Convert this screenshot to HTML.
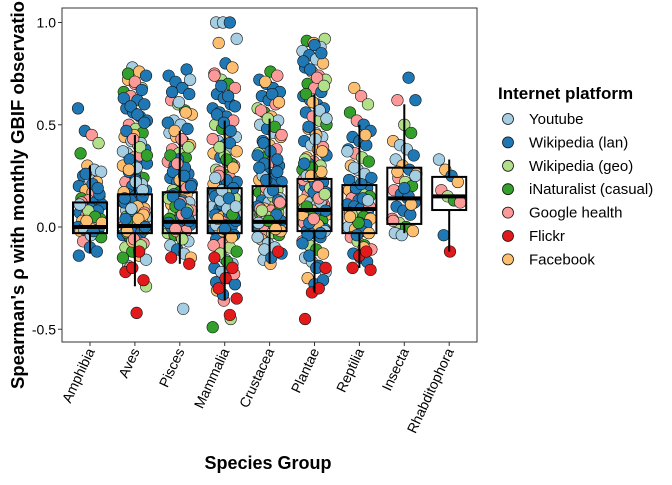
<!DOCTYPE html>
<html><head><meta charset="utf-8"><style>
html,body{margin:0;padding:0;background:#fff;}
svg text{font-family:"Liberation Sans",Arial,sans-serif;}
</style></head><body>
<svg id="chart" width="672" height="480" viewBox="0 0 672 480">
<rect width="672" height="480" fill="#fff"/>
<g id="points"></g>
<g id="boxes"></g>
<rect x="62" y="8" width="415" height="334" fill="none" stroke="#333" stroke-width="1"/>
<g id="yaxis"></g>
<g id="xaxis"></g>
<text x="268" y="469" text-anchor="middle" font-size="18" font-weight="bold">Species Group</text>
<text transform="translate(24,389) rotate(-90)" font-size="18.5" font-weight="bold">Spearman's ρ with monthly GBIF observations</text>
<g id="legend">
<text x="498" y="99" font-size="17" font-weight="bold">Internet platform</text>
</g>
</svg>
<script>
const categories=["Amphibia","Aves","Pisces","Mammalia","Crustacea","Plantae","Reptilia","Insecta","Rhabditophora"];
const platforms=["Youtube","Wikipedia (lan)","Wikipedia (geo)","iNaturalist (casual)","Google health","Flickr","Facebook"];
const q1=[-0.03,-0.03,-0.03,-0.03,-0.02,-0.02,-0.03,0.015,0.083];
const med=[0.0,0.005,0.025,0.025,0.025,0.083,0.088,0.14,0.15];
const q3=[0.12,0.16,0.17,0.19,0.2,0.235,0.205,0.29,0.245];
const whiskLo=[-0.13,-0.29,-0.18,-0.36,-0.18,-0.32,-0.2,-0.03,-0.12];
const whiskHi=[0.3,0.45,0.47,0.52,0.53,0.65,0.5,0.6,0.33];
const valsAmphibia=[0.58,0.47,0.45,0.41,0.36,0.3,0.28,0.27,0.25,0.23,0.22,0.2,0.18,0.17,0.15,0.14,0.13,0.12,0.11,0.1,0.09,0.08,0.07,0.06,0.05,0.04,0.03,0.02,0.01,0.0,0.0,-0.01,-0.01,-0.02,-0.02,-0.03,-0.05,-0.07,-0.1,-0.12,-0.14,0.26,0.21,0.16,0.12,0.08,0.05,0.02,-0.01,-0.04,0.19,0.11,0.03,-0.02];
const valsAves=[0.78,0.76,0.74,0.72,0.7,0.68,0.66,0.64,0.62,0.6,0.58,0.56,0.54,0.52,0.5,0.48,0.46,0.44,0.42,0.4,0.38,0.36,0.34,0.32,0.3,0.28,0.26,0.24,0.22,0.2,0.19,0.18,0.16,0.15,0.14,0.12,0.11,0.1,0.09,0.08,0.07,0.06,0.05,0.04,0.03,0.02,0.01,0.01,0.0,0.0,-0.01,-0.02,-0.03,-0.04,-0.05,-0.06,-0.08,-0.1,-0.12,-0.14,-0.16,-0.19,0.25,0.21,0.17,0.13,0.1,0.07,0.05,0.03,0.35,0.31,0.27,0.23,0.15,0.12,0.08,0.02,-0.01,-0.03,0.45,0.41,0.37,0.33,0.29,0.06,0.04,-0.07,-0.11,-0.29,0.75,0.71,0.67,0.63,0.59,0.55,0.51,0.47,0.43,0.39,0.35,0.28,0.22,0.18,0.14,0.09,0.04,0.0,-0.02,-0.06,-0.09,-0.15,-0.2];
const valsPisces=[0.77,0.74,0.71,0.68,0.65,0.62,0.6,0.57,0.55,0.52,0.5,0.48,0.46,0.44,0.42,0.4,0.38,0.36,0.34,0.32,0.3,0.28,0.26,0.24,0.22,0.2,0.19,0.18,0.17,0.16,0.15,0.14,0.13,0.12,0.11,0.1,0.09,0.08,0.07,0.06,0.05,0.04,0.03,0.02,0.01,0.0,-0.01,-0.02,-0.03,-0.04,-0.05,-0.07,-0.09,-0.11,-0.13,-0.15,0.27,0.23,0.19,0.14,0.1,0.06,0.03,0.0,0.33,0.29,0.21,0.16,0.12,0.08,0.04,-0.02,-0.4,0.72,0.66,0.61,0.56,0.51,0.47,0.43,0.39,0.35,0.31,0.25,0.2,0.15,0.11,0.07,0.02,-0.01,-0.06];
const valsMammalia=[1.0,1.0,1.0,0.92,0.9,0.8,0.78,0.75,0.72,0.7,0.68,0.65,0.63,0.6,0.58,0.56,0.54,0.52,0.5,0.48,0.46,0.44,0.42,0.4,0.38,0.36,0.34,0.32,0.3,0.28,0.26,0.24,0.22,0.2,0.19,0.18,0.17,0.16,0.15,0.14,0.13,0.12,0.11,0.1,0.09,0.08,0.07,0.06,0.05,0.04,0.03,0.02,0.01,0.0,-0.01,-0.02,-0.03,-0.04,-0.06,-0.08,-0.1,-0.12,-0.14,-0.16,-0.18,-0.2,-0.22,-0.25,-0.28,-0.31,-0.36,-0.45,-0.49,0.27,0.23,0.19,0.15,0.11,0.07,0.03,0.0,0.35,0.31,0.21,0.13,0.09,0.05,0.01,-0.02,0.41,0.37,0.25,0.17,0.06,0.74,0.69,0.64,0.59,0.55,0.51,0.47,0.43,0.39,0.33,0.29,0.24,0.18,0.14,0.1,0.04,-0.01,-0.05,-0.09,-0.13,-0.17,-0.23,-0.27,-0.33];
const valsCrustacea=[0.76,0.74,0.72,0.7,0.68,0.66,0.64,0.62,0.6,0.58,0.56,0.54,0.52,0.5,0.48,0.46,0.44,0.42,0.4,0.38,0.36,0.34,0.32,0.3,0.28,0.26,0.24,0.22,0.2,0.19,0.18,0.17,0.16,0.15,0.14,0.13,0.12,0.11,0.1,0.09,0.08,0.07,0.06,0.05,0.04,0.03,0.02,0.01,0.0,-0.01,-0.02,-0.03,-0.04,-0.06,-0.08,-0.1,-0.13,-0.16,-0.18,0.27,0.23,0.19,0.15,0.11,0.07,0.03,0.0,0.35,0.31,0.21,0.13,0.09,0.05,0.01,-0.02,0.25,0.17,0.06,0.02,0.71,0.65,0.61,0.57,0.53,0.49,0.45,0.41,0.37,0.33,0.29,0.23,0.18,0.12,0.08,0.03,-0.01,-0.05,-0.11,-0.15];
const valsPlantae=[0.92,0.91,0.9,0.88,0.86,0.84,0.82,0.8,0.78,0.76,0.74,0.72,0.7,0.68,0.66,0.64,0.62,0.6,0.58,0.56,0.54,0.52,0.5,0.48,0.46,0.44,0.42,0.4,0.38,0.36,0.34,0.32,0.3,0.28,0.26,0.24,0.22,0.2,0.19,0.18,0.17,0.16,0.15,0.14,0.13,0.12,0.11,0.1,0.09,0.08,0.07,0.06,0.05,0.04,0.03,0.02,0.01,0.0,-0.01,-0.02,-0.03,-0.05,-0.07,-0.09,-0.11,-0.13,-0.15,-0.17,-0.19,-0.22,-0.25,-0.28,0.27,0.23,0.19,0.15,0.11,0.07,0.03,0.0,0.35,0.31,0.21,0.13,0.09,0.05,0.01,-0.02,0.25,0.17,0.12,0.06,0.02,0.45,0.39,0.33,0.29,0.14,0.08,-0.04,0.89,0.85,0.81,0.77,0.73,0.69,0.65,0.61,0.57,0.53,0.49,0.43,0.37,0.31,0.25,0.2,0.16,0.1,0.04,-0.03,-0.08,-0.14,-0.2,-0.26];
const valsReptilia=[0.68,0.64,0.6,0.56,0.52,0.5,0.47,0.44,0.42,0.4,0.38,0.36,0.34,0.32,0.3,0.28,0.26,0.24,0.22,0.2,0.19,0.18,0.17,0.16,0.15,0.14,0.13,0.12,0.11,0.1,0.09,0.08,0.07,0.06,0.05,0.04,0.03,0.02,0.01,0.0,-0.01,-0.02,-0.03,-0.05,-0.07,-0.09,-0.11,-0.13,-0.15,-0.17,0.23,0.19,0.14,0.1,0.06,0.02,0.45,0.37,0.29,0.21,0.13,0.05,-0.04,-0.1];
const valsInsecta=[0.73,0.62,0.62,0.5,0.46,0.42,0.4,0.38,0.35,0.33,0.3,0.28,0.26,0.24,0.22,0.2,0.18,0.16,0.14,0.12,0.1,0.08,0.06,0.04,0.02,0.0,-0.02,-0.03,-0.04,0.15,0.25,0.27,0.19,0.11,0.03];
const valsRhabditophora=[0.33,0.28,0.25,0.22,0.18,0.15,0.13,0.12,-0.04];
const values=[valsAmphibia,valsAves,valsPisces,valsMammalia,valsCrustacea,valsPlantae,valsReptilia,valsInsecta,valsRhabditophora];
const flickrAmphibia=[];
const flickrAves=[-0.42,-0.26,-0.22,-0.2,-0.12];
const flickrPisces=[-0.18,-0.15];
const flickrMammalia=[-0.43,-0.35,-0.3,-0.25,-0.2,-0.15];
const flickrCrustacea=[-0.12];
const flickrPlantae=[-0.45,-0.32,-0.3,-0.2];
const flickrReptilia=[-0.21,-0.2,-0.14,-0.12];
const flickrInsecta=[];
const flickrRhabditophora=[-0.12];
const flickr=[flickrAmphibia,flickrAves,flickrPisces,flickrMammalia,flickrCrustacea,flickrPlantae,flickrReptilia,flickrInsecta,flickrRhabditophora];
const yTicks=[-0.5,0,0.5,1.0];
const yTickLabels=["-0.5","0.0","0.5","1.0"];

const colors=["#A6CEE3","#1F78B4","#B2DF8A","#33A02C","#FB9A99","#E31A1C","#FDBF6F"];
const pattern=[1,1,4,0,6,1,1,2,6,0,4,1,3,1,0,2,1,4,6,1,3];
const NS="http://www.w3.org/2000/svg";
function xScale(i){return 90+i*44.9;}
function yScale(v){return 227-204.5*v;}
function mk(tag,attrs,parent){const e=document.createElementNS(NS,tag);for(const k in attrs)e.setAttribute(k,attrs[k]);parent.appendChild(e);return e;}
const gp=document.getElementById('points');
categories.forEach((c,g)=>{
  const pts=[];
  values[g].forEach((v,i)=>pts.push([v,pattern[(i*5+g*3)%pattern.length]]));
  flickr[g].forEach(v=>pts.push([v,5]));
  const maxJ=(g===8)?11:12;
  pts.forEach((p,i)=>{
    const j=(((i*37+g*11)%29)/28-0.5)*2*maxJ;
    const c=mk('circle',{cx:xScale(g)+j,cy:yScale(p[0]),r:5.8,fill:colors[p[1]],stroke:'#111','stroke-width':0.6},gp);
    
    
  });
});
const gb=document.getElementById('boxes');
categories.forEach((c,g)=>{
  const x=xScale(g),hw=17;
  const l1=mk('line',{x1:x,x2:x,y1:yScale(q3[g]),y2:yScale(whiskHi[g]),stroke:'#000','stroke-width':2},gb);
  
  
  const l2=mk('line',{x1:x,x2:x,y1:yScale(q1[g]),y2:yScale(whiskLo[g]),stroke:'#000','stroke-width':2},gb);
  
  
  const r=mk('rect',{x:x-hw,y:yScale(q3[g]),width:2*hw,height:yScale(q1[g])-yScale(q3[g]),fill:'none',stroke:'#000','stroke-width':2},gb);
  
  
  const m=mk('line',{x1:x-hw,x2:x+hw,y1:yScale(med[g]),y2:yScale(med[g]),stroke:'#000','stroke-width':4},gb);
  
  
});
const gy=document.getElementById('yaxis');
yTicks.forEach((t,i)=>{
  const tk=mk('line',{x1:58,x2:62,y1:yScale(t),y2:yScale(t),stroke:'#333'},gy);
  
  
  const tx=mk('text',{x:56,y:yScale(t)+5,'text-anchor':'end','font-size':14,fill:'#000'},gy);
  tx.textContent=yTickLabels[i];
  
  
});
const gx=document.getElementById('xaxis');
categories.forEach((c,g)=>{
  const x=xScale(g);
  const tk=mk('line',{x1:x,x2:x,y1:342,y2:346,stroke:'#333'},gx);
  
  
  const tx=mk('text',{transform:`translate(${x+5},351) rotate(-65)`,'text-anchor':'end','font-size':14,fill:'#000'},gx);
  tx.textContent=c;
  
  
});
const gl=document.getElementById('legend');
platforms.forEach((p,i)=>{
  const y=119+i*23.4;
  const c=mk('circle',{cx:508,cy:y,r:5.5,fill:colors[i],stroke:'#111','stroke-width':0.8},gl);
  
  
  const t=mk('text',{x:529,y:y+5,'font-size':15,fill:'#000'},gl);
  t.textContent=p;
  
  
});
</script>
</body></html>
